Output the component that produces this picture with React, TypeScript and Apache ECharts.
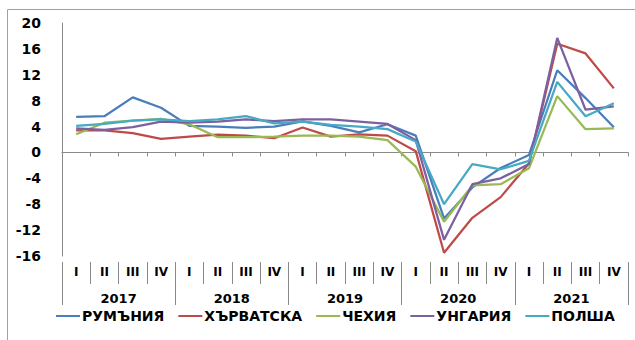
import React, { useEffect, useRef } from "react";
import * as echarts from "echarts";

const quarters = ["I", "II", "III", "IV"];
const years = ["2017", "2018", "2019", "2020", "2021"];
const categories: string[] = years.flatMap((y) => quarters.map((q) => `${q} ${y}`));
const quarterLabels: string[] = years.flatMap(() => quarters);

const yTicks = { min: -16, max: 20, interval: 4 };

const romania = [5.5, 5.6, 8.5, 6.9, 4.1, 4.0, 3.8, 4.0, 4.8, 4.1, 3.1, 4.35, 2.6, -10.2, -5.4, -2.4, -0.4, 12.7, 8.4, 3.9];
const croatia = [3.4, 3.4, 3.0, 2.1, 2.45, 2.75, 2.6, 2.2, 3.85, 2.45, 2.8, 2.6, 0.2, -15.5, -10.1, -6.9, -1.7, 16.8, 15.3, 9.9];
const czechia = [2.8, 4.6, 4.9, 5.2, 4.35, 2.35, 2.35, 2.45, 2.6, 2.6, 2.45, 1.9, -2.2, -10.7, -5.1, -4.9, -2.45, 8.7, 3.6, 3.7];
const hungary = [3.7, 3.5, 3.9, 4.75, 4.6, 4.75, 5.1, 4.85, 5.1, 5.1, 4.75, 4.4, 1.9, -13.5, -4.9, -4.0, -1.8, 17.7, 6.6, 7.1];
const poland = [4.1, 4.4, 4.9, 5.1, 4.85, 5.1, 5.6, 4.5, 4.75, 4.25, 4.0, 3.6, 1.7, -8.0, -1.8, -2.6, -1.3, 10.9, 5.6, 7.6];

const seriesNames = ["РУМЪНИЯ", "ХЪРВАТСКА", "ЧЕХИЯ", "УНГАРИЯ", "ПОЛША"];
const seriesData = [romania, croatia, czechia, hungary, poland];
const colors = ["#4A7EBB", "#BE4B48", "#98B954", "#7D60A0", "#46AAC5"];

const FONT = "DejaVu Sans, Verdana, sans-serif";
const AXIS_GRAY = "#898989";

export default function App() {
  const ref = useRef<HTMLDivElement>(null);
  useEffect(() => {
    if (!ref.current) return;
    const chart = echarts.init(ref.current, undefined, { renderer: "svg" });
    chart.setOption({
      animation: false,
      backgroundColor: "#ffffff",
      textStyle: { fontFamily: FONT },
      grid: { left: 62, right: 7, top: 23, bottom: 84, containLabel: false },
      legend: {
        data: seriesNames.map((name) => ({ name, icon: "rect" })),
        bottom: 12,
        left: 51,
        itemWidth: 24,
        itemHeight: 2,
        itemGap: 14,
        textStyle: { fontFamily: FONT, fontWeight: "bold", fontSize: 14, color: "#000", padding: [0, 0, 0, -3] },
      },
      xAxis: [
        {
          type: "category",
          data: categories,
          boundaryGap: true,
          axisLine: { onZero: true, lineStyle: { color: AXIS_GRAY, width: 1 } },
          axisTick: { show: true, length: 4, interval: 0, lineStyle: { color: AXIS_GRAY } },
          axisLabel: { show: false },
          splitLine: { show: false },
        },
        {
          type: "category",
          data: quarterLabels,
          position: "bottom",
          offset: 6,
          boundaryGap: true,
          axisLine: { show: false, onZero: false },
          axisTick: { show: true, length: 22, interval: 0, lineStyle: { color: AXIS_GRAY } },
          axisLabel: {
            interval: 0,
            margin: 4,
            fontFamily: FONT,
            fontWeight: "bold",
            fontSize: 12,
            color: "#000",
          },
          splitLine: { show: false },
        },
        {
          type: "category",
          data: years,
          position: "bottom",
          offset: 6,
          boundaryGap: true,
          axisLine: { show: false, onZero: false },
          axisTick: { show: true, length: 43, interval: 0, lineStyle: { color: AXIS_GRAY } },
          axisLabel: {
            interval: 0,
            margin: 30,
            fontFamily: FONT,
            fontWeight: "bold",
            fontSize: 13,
            color: "#000",
          },
          splitLine: { show: false },
        },
      ],
      yAxis: {
        type: "value",
        min: yTicks.min,
        max: yTicks.max,
        interval: yTicks.interval,
        axisLine: { show: true, lineStyle: { color: AXIS_GRAY } },
        axisTick: { show: false },
        splitLine: { show: false },
        axisLabel: {
          margin: 21,
          fontFamily: FONT,
          fontWeight: "bold",
          fontSize: 14,
          color: "#000",
        },
      },
      series: seriesNames.map((name, i) => ({
        name,
        type: "line",
        xAxisIndex: 0,
        data: seriesData[i],
        symbol: "none",
        lineStyle: { color: colors[i], width: 2.25 },
        itemStyle: { color: colors[i] },
      })),
      graphic: [
        {
          type: "rect",
          shape: { x: 7.5, y: 9.5, width: 700, height: 400 },
          style: { fill: "none", stroke: "#a0a0a0", lineWidth: 1 },
          silent: true,
          z: -1,
        },
      ],
    });
    return () => chart.dispose();
  }, []);
  return (
    <div
      ref={ref}
      style={{ position: "fixed", left: 0, top: 0, width: 635, height: 340 }}
    />
  );
}
